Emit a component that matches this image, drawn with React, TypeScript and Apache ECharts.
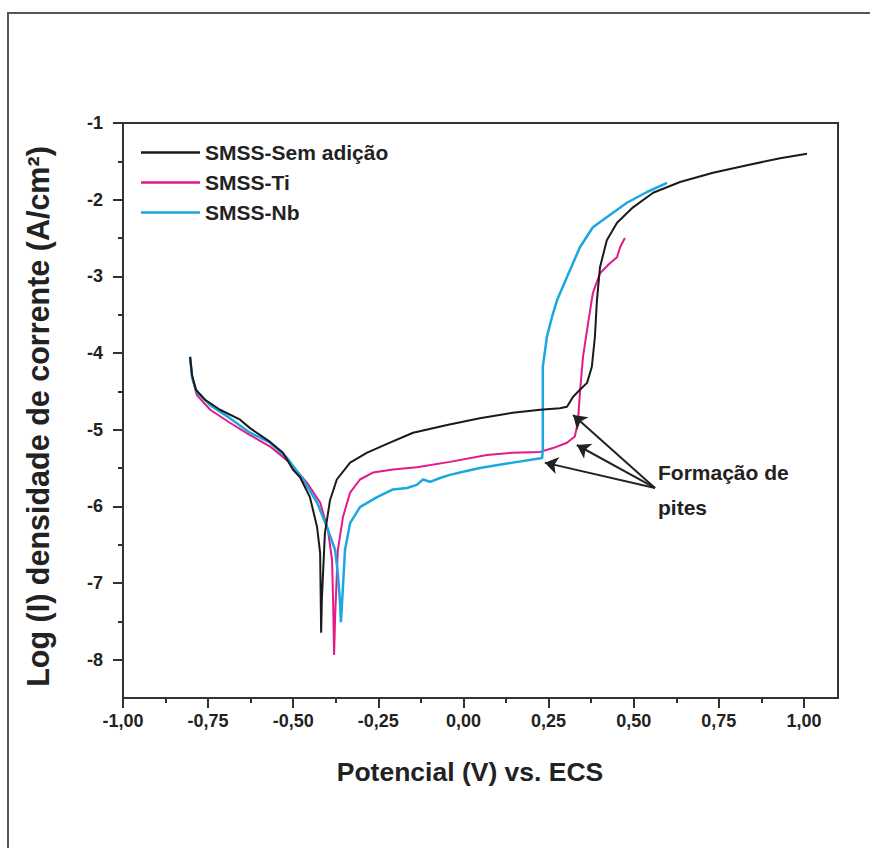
import React, { useEffect, useRef } from "react";
import * as echarts from "echarts";

// ---- data (potential V vs. log current density) ----
const semAdicao: [number, number][] = [
  [-0.803, -4.05], [-0.797, -4.29], [-0.786, -4.48], [-0.759, -4.61], [-0.715, -4.74],
  [-0.656, -4.87], [-0.627, -4.98], [-0.568, -5.16], [-0.53, -5.3], [-0.501, -5.52],
  [-0.48, -5.62], [-0.451, -5.88], [-0.43, -6.27], [-0.421, -6.61], [-0.418, -7.65],
  [-0.416, -7.22], [-0.407, -6.35], [-0.392, -5.92], [-0.372, -5.65], [-0.333, -5.43],
  [-0.283, -5.3], [-0.216, -5.17], [-0.148, -5.04], [-0.048, -4.94], [0.048, -4.85],
  [0.145, -4.78], [0.225, -4.74], [0.283, -4.72], [0.304, -4.7], [0.322, -4.57],
  [0.342, -4.48], [0.363, -4.39], [0.377, -4.18], [0.386, -3.79], [0.392, -3.31],
  [0.401, -2.88], [0.421, -2.53], [0.451, -2.3], [0.498, -2.1], [0.557, -1.91],
  [0.636, -1.77], [0.733, -1.65], [0.833, -1.55], [0.93, -1.46], [1.009, -1.4],
];

const ti: [number, number][] = [
  [-0.803, -4.05], [-0.797, -4.32], [-0.783, -4.55], [-0.744, -4.74], [-0.686, -4.91],
  [-0.627, -5.07], [-0.568, -5.22], [-0.51, -5.43], [-0.46, -5.69], [-0.421, -5.95],
  [-0.398, -6.31], [-0.386, -6.7], [-0.383, -7.22], [-0.38, -7.94],
  [-0.377, -7.44], [-0.369, -6.57], [-0.354, -6.14], [-0.333, -5.82], [-0.304, -5.65],
  [-0.266, -5.56], [-0.207, -5.52], [-0.137, -5.49], [-0.04, -5.42], [0.069, -5.33],
  [0.145, -5.3], [0.225, -5.29], [0.263, -5.24], [0.304, -5.17], [0.327, -5.09],
  [0.336, -4.91], [0.342, -4.52], [0.351, -4.05], [0.366, -3.61], [0.38, -3.22],
  [0.401, -2.96], [0.43, -2.83], [0.451, -2.75], [0.46, -2.62], [0.474, -2.5],
];

const nb: [number, number][] = [
  [-0.803, -4.05], [-0.797, -4.32], [-0.783, -4.51], [-0.744, -4.68], [-0.686, -4.85],
  [-0.627, -5.04], [-0.568, -5.17], [-0.518, -5.37], [-0.471, -5.65], [-0.43, -5.95],
  [-0.401, -6.27], [-0.377, -6.57], [-0.369, -6.87], [-0.363, -7.22], [-0.36, -7.51],
  [-0.354, -7.05], [-0.348, -6.57], [-0.333, -6.22], [-0.304, -6.01], [-0.254, -5.88],
  [-0.207, -5.78], [-0.166, -5.76], [-0.137, -5.72], [-0.119, -5.65], [-0.098, -5.68],
  [-0.069, -5.63], [-0.04, -5.59], [-0.001, -5.55], [0.048, -5.5], [0.145, -5.43],
  [0.231, -5.37], [0.233, -5.26], [0.233, -4.18], [0.245, -3.79], [0.26, -3.53],
  [0.275, -3.31], [0.304, -3.01], [0.342, -2.62], [0.38, -2.36], [0.439, -2.17],
  [0.48, -2.04], [0.539, -1.9], [0.598, -1.78],
];

const seriesNames = ["SMSS-Sem adição", "SMSS-Ti", "SMSS-Nb"];
const seriesColors = ["#1a1a1a", "#e3198a", "#1ba7e0"];
const xMajorTicks = [-1, -0.75, -0.5, -0.25, 0, 0.25, 0.5, 0.75, 1];
const xMinorTicks = [-0.875, -0.625, -0.375, -0.125, 0.125, 0.375, 0.625, 0.875];
const yMajorTicks = [-8, -7, -6, -5, -4, -3, -2, -1];
const yMinorTicks = [-7.5, -6.5, -5.5, -4.5, -3.5, -2.5, -1.5];

const annotationLines = ["Formação de", "pites"];
const arrowStart: [number, number] = [0.5625, -5.76];
const arrowTargets: [number, number][] = [
  [0.322, -4.81],
  [0.333, -5.2],
  [0.239, -5.43],
];

const FONT = "'Liberation Sans', Arial, Helvetica, sans-serif";

export default function App() {
  const ref = useRef<HTMLDivElement>(null);
  useEffect(() => {
    if (!ref.current) return;
    const chart = echarts.init(ref.current, null, { renderer: "svg" });
    const axisColor = "#333";
    const textColor = "#222";
    const fmtX = (v: number) => v.toFixed(2).replace(".", ",");
    chart.setOption({
      animation: false,
      backgroundColor: "#fff",
      grid: {
        left: 123, top: 123, width: 715, height: 575,
        show: true, borderColor: axisColor, borderWidth: 2, backgroundColor: "transparent",
      },
      legend: {
        orient: "vertical", left: 136, top: 137, itemWidth: 59, itemHeight: 2.5, itemGap: 9,
        icon: "rect",
        textStyle: { fontFamily: FONT, fontWeight: "bold", fontSize: 21, color: textColor },
        data: seriesNames,
      },
      xAxis: [
        {
          type: "value", min: -1, max: 1.1, position: "bottom",
          axisLine: { onZero: false, lineStyle: { color: axisColor, width: 2 } },
          axisTick: { customValues: xMajorTicks, length: 10, lineStyle: { color: axisColor, width: 2 } },
          axisLabel: {
            customValues: xMajorTicks, formatter: fmtX, margin: 14,
            fontFamily: FONT, fontWeight: "bold", fontSize: 18, color: textColor,
          },
          splitLine: { show: false },
          name: "Potencial (V) vs. ECS", nameLocation: "middle", nameGap: 60,
          nameTextStyle: {
            fontFamily: FONT, fontWeight: "bold", fontSize: 26.5, color: textColor,
            padding: [0, 21, 0, 0],
          },
        },
        {
          type: "value", min: -1, max: 1.1, position: "bottom",
          axisLine: { show: false, onZero: false },
          axisTick: { customValues: xMinorTicks, length: 5, lineStyle: { color: axisColor, width: 2 } },
          axisLabel: { show: false },
          splitLine: { show: false },
        },
      ],
      yAxis: [
        {
          type: "value", min: -8.5, max: -1, position: "left",
          axisLine: { show: true, onZero: false, lineStyle: { color: axisColor, width: 2 } },
          axisTick: { show: true, customValues: yMajorTicks, length: 10, lineStyle: { color: axisColor, width: 2 } },
          axisLabel: {
            customValues: yMajorTicks, formatter: (v: number) => String(v), margin: 20,
            fontFamily: FONT, fontWeight: "bold", fontSize: 18, color: textColor,
          },
          splitLine: { show: false },
          name: "Log (I) densidade de corrente (A/cm²)", nameLocation: "middle", nameGap: 70,
          nameTextStyle: {
            fontFamily: FONT, fontWeight: "bold", fontSize: 30.5, color: textColor,
            padding: [0, 12, 0, 0],
          },
        },
        {
          type: "value", min: -8.5, max: -1, position: "left",
          axisLine: { show: false, onZero: false },
          axisTick: { show: true, customValues: yMinorTicks, length: 5, lineStyle: { color: axisColor, width: 2 } },
          axisLabel: { show: false },
          splitLine: { show: false },
        },
      ],
      series: [
        {
          name: seriesNames[0], type: "line", data: semAdicao, symbol: "none",
          lineStyle: { color: seriesColors[0], width: 2 }, itemStyle: { color: seriesColors[0] },
          z: 3,
          markLine: {
            silent: true, symbol: ["none", "arrow"], symbolSize: 13,
            lineStyle: { color: "#222", width: 2, type: "solid" },
            itemStyle: { color: "#222" },
            label: { show: false },
            data: arrowTargets.map((t) => [{ coord: arrowStart }, { coord: t }]),
          },
        },
        {
          name: seriesNames[1], type: "line", data: ti, symbol: "none",
          lineStyle: { color: seriesColors[1], width: 2 }, itemStyle: { color: seriesColors[1] }, z: 2,
        },
        {
          name: seriesNames[2], type: "line", data: nb, symbol: "none",
          lineStyle: { color: seriesColors[2], width: 2.5 }, itemStyle: { color: seriesColors[2] }, z: 2,
        },
      ],
      graphic: [
        {
          type: "rect", shape: { x: 8, y: 13, width: 900, height: 900 },
          style: { fill: "none", stroke: "#555", lineWidth: 2 }, silent: true,
        },
        {
          type: "text", x: 658, y: 472,
          style: {
            text: annotationLines[0], fontFamily: FONT, fontWeight: "bold", fontSize: 21,
            fill: textColor, verticalAlign: "middle", align: "left",
          },
        },
        {
          type: "text", x: 658, y: 507,
          style: {
            text: annotationLines[1], fontFamily: FONT, fontWeight: "bold", fontSize: 21,
            fill: textColor, verticalAlign: "middle", align: "left",
          },
        },
      ],
    });
    return () => chart.dispose();
  }, []);
  return (
    <div
      ref={ref}
      style={{ position: "fixed", left: 0, top: 0, width: 870, height: 848, background: "#fff" }}
    />
  );
}
